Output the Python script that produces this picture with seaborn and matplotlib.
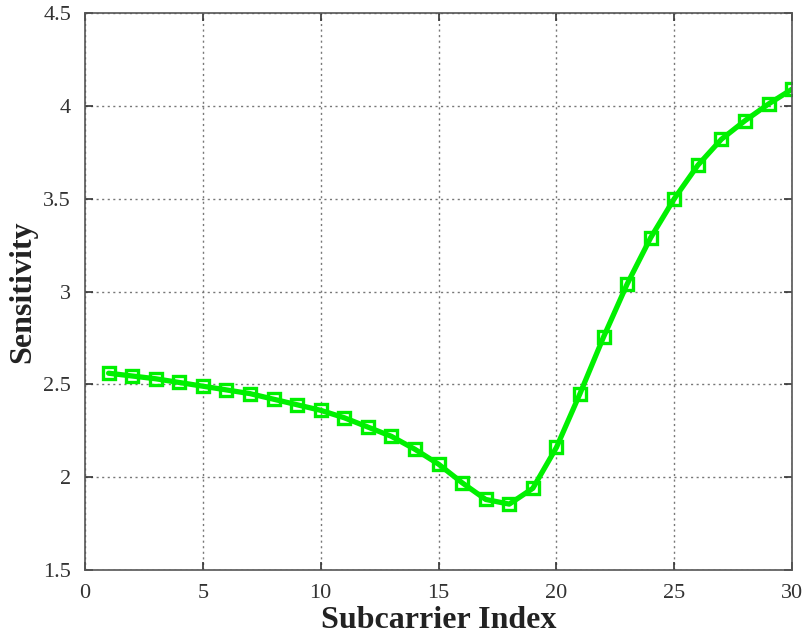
import numpy as np
import pandas as pd
import matplotlib
matplotlib.use("Agg")
import matplotlib.pyplot as plt
import seaborn as sns

# data
subcarrier = list(range(1, 31))
sensitivity = [2.56, 2.545, 2.53, 2.51, 2.49, 2.47, 2.45, 2.42, 2.39, 2.36,
               2.32, 2.27, 2.22, 2.15, 2.07, 1.97, 1.88, 1.855, 1.94, 2.16,
               2.45, 2.755, 3.04, 3.29, 3.50, 3.68, 3.82, 3.92, 4.01, 4.09]
x_ticks = [0, 5, 10, 15, 20, 25, 30]
y_ticks = [1.5, 2, 2.5, 3, 3.5, 4, 4.5]

df = pd.DataFrame({'subcarrier': subcarrier, 'sensitivity': sensitivity})

sns.set_style('white')
plt.rcParams['font.family'] = ['Liberation Serif', 'DejaVu Serif']

fig = plt.figure(figsize=(8.05, 6.43), dpi=100)
ax = fig.add_axes([0.1056, 0.1135, 0.8784, 0.8663])

sns.lineplot(data=df, x='subcarrier', y='sensitivity', ax=ax, color='#00f000',
             linewidth=3.8, marker='s', markersize=9, markerfacecolor='none',
             markeredgecolor='#00f000', markeredgewidth=2.4)

ax.set_xlim(0, 30)
ax.set_ylim(1.5, 4.5)
ax.set_xticks(x_ticks)
ax.set_yticks(y_ticks)
ax.set_yticklabels(['1.5', '2', '2.5', '3', '3.5', '4', '4.5'])
ax.grid(True, linestyle=(0, (1.5, 2.5)), color='#777777', linewidth=1.0)
ax.tick_params(direction='in', length=6, width=1.2, colors='#333333', labelsize=16,
               top=True, right=True, left=True, bottom=True)
ax.tick_params(axis='x', pad=10)
ax.tick_params(axis='y', pad=10)
for s in ax.spines.values():
    s.set_color('#555555')
    s.set_linewidth(1.2)

ax.set_xlabel('Subcarrier Index', fontsize=23, fontweight='bold', color='#222222', labelpad=2)
ax.set_ylabel('Sensitivity', fontsize=23, fontweight='bold', color='#222222', labelpad=4)

fig.savefig('out.png', dpi=100)
